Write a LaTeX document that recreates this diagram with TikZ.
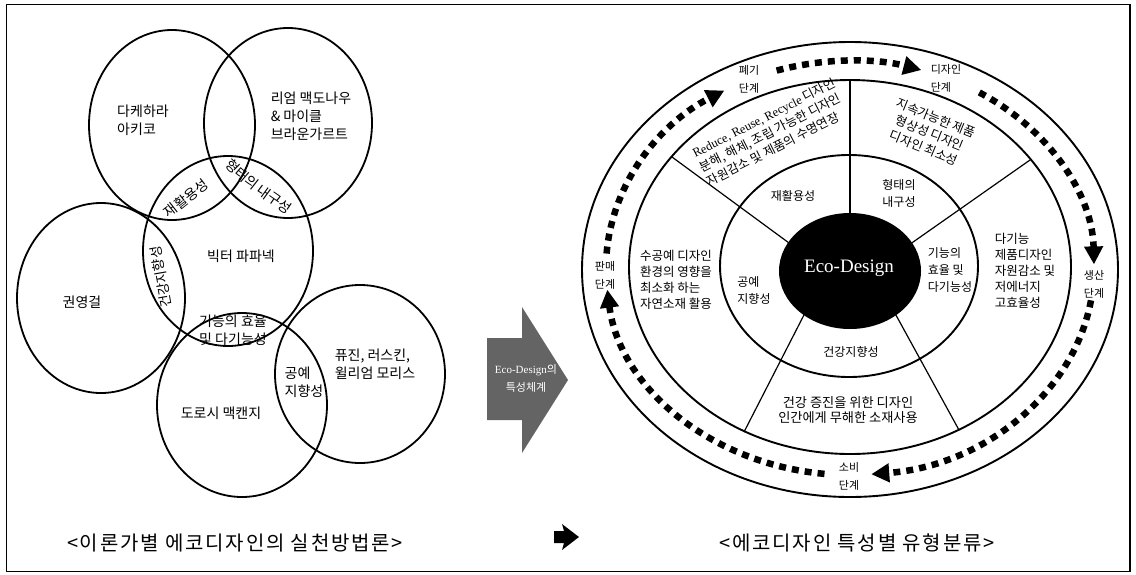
\documentclass[tikz,border=0pt]{standalone}
\usepackage{fontspec}
\setmainfont{Liberation Serif}
\newfontfamily\kr{Noto Sans CJK KR}
\newfontfamily\krcap{Noto Sans CJK KR}[LetterSpace=9]
\newfontfamily\tnr{Liberation Serif}
\usetikzlibrary{arrows.meta,decorations.text}
\definecolor{arrowgray}{RGB}{100,100,100}
\begin{document}
\begin{tikzpicture}[x=1pt,y=-1pt,
  venn/.style={line width=1.8pt},
  ring/.style={line width=1.9pt},
  spoke/.style={line width=1.2pt},
  vlab/.style={font=\kr\fontsize{14}{18}\selectfont, inner sep=0pt, align=left},
  rlab/.style={font=\kr\fontsize{12}{17}\selectfont, inner sep=0pt, align=left},
  olab/.style={font=\kr\fontsize{12.5}{16}\selectfont, inner sep=0pt, align=left},
  tlab/.style={font=\kr\fontsize{11}{18}\selectfont, inner sep=0pt, align=left},
  captext/.style={font=\krcap\fontsize{20}{22}\selectfont, inner sep=0pt},
  track/.style={line width=6.5pt, dash pattern=on 7pt off 6pt, -{Triangle[length=18pt,width=18pt]}},
]
\useasboundingbox (0,0) rectangle (1136,574);
\draw[line width=1.5pt] (6.5,4.5) rectangle (1130,571.5);

% ---------- left: Venn circles ----------
\draw[venn] (172,125) ellipse [x radius=83, y radius=95];
\draw[venn] (288,123) ellipse [x radius=84, y radius=95];
\draw[venn] (228,251) ellipse [x radius=85, y radius=95];
\draw[venn] (101,298) ellipse [x radius=84, y radius=95];
\draw[venn] (242,405) ellipse [x radius=85, y radius=92];
\draw[venn] (360,374) ellipse [x radius=85, y radius=89];

\node[vlab] (takehara) at (143,120) {다케하라\\아키코};
\node[vlab] (mcdonough) at (311,116) {리엄 맥도나우\\\& 마이클\\브라운가르트};
\node[vlab, rotate=38] (recyc) at (186,198) {재활용성};
\path[decorate, decoration={text along path, text align=center,
  text={|\kr\fontsize{14}{14}\selectfont|형태의 내구성}}]
  (220,160) .. controls (236,180) and (271.5,203.7) .. (293,218);
\node[font=\kr\fontsize{13.5}{13.5}\selectfont, inner sep=0pt, rotate=100] (health) at (161,277) {건강지향성};
\node[vlab] (papanek) at (241,256) {빅터 파파넥};
\node[vlab] (kwon) at (82,302) {권영걸};
\node[vlab, align=center] (func) at (233,330) {기능의 효율\\및 다기능성};
\node[vlab] (pugin) at (375,364) {퓨진, 러스킨,\\윌리엄 모리스};
\node[vlab] (craft) at (304,382) {공예\\지향성};
\node[vlab] (mckenzie) at (221,413) {도로시 맥캔지};
\node[captext] (capL) at (235,543) {<이론가별 에코디자인의 실천방법론>};

% ---------- middle arrow ----------
\fill[arrowgray] (487,338) -- (522,338) -- (522,307) -- (568,380) -- (522,453) -- (522,420) -- (487,420) -- cycle;
\node[white, font=\kr\fontsize{11}{18}\selectfont, align=center, inner sep=0pt] (arrowtxt) at (526,378) {{\tnr Eco-Design}의\\특성체계};
\fill (554,531) -- (564,531) -- (562,524) -- (579,537) -- (562,550) -- (564,543) -- (554,543) -- cycle;

% ---------- right: rings ----------
\draw[ring] (850,269.5) ellipse [x radius=268, y radius=227.5];
\draw[ring] (850,267) ellipse [x radius=221, y radius=187];
\draw[ring] (849,266) ellipse [x radius=129, y radius=111];
\draw[spoke] (850,230) -- (850,80);
\draw[spoke] (790,243.7) -- (672,157);
\draw[spoke] (910,244.2) -- (1030,160);
\draw[spoke] (806,311) -- (744,432);
\draw[spoke] (894,311.5) -- (959,430);
\fill (850,271) ellipse [x radius=71, y radius=58];
\node[white, font=\tnr\fontsize{19}{19}\selectfont, inner sep=0pt] (eco) at (849,268) {Eco-Design};

\node[rlab] (r1) at (793,196) {재활용성};
\node[rlab] (r2) at (899,193) {형태의\\내구성};
\node[rlab] (r3) at (950,270) {기능의\\효율 및\\다기능성};
\node[rlab] (r4) at (754,290) {공예\\지향성};
\node[rlab] (r5) at (851,352) {건강지향성};

\node[olab, rotate=27] (o1) at (771,132) {{\tnr Reduce, Reuse, Recycle} 디자인\\분해, 해체, 조립 가능한 디자인\\자원감소 및 제품의 수명연장};
\node[olab, align=center, rotate=-22] (o2) at (930,133) {지속가능한 제품\\형상성 디자인\\디자인 최소성};
\node[olab] (o3) at (1025,271) {다기능\\제품디자인\\자원감소 및\\저에너지\\고효율성};
\node[olab] (o4) at (676,280) {수공예 디자인\\환경의 영향을\\최소화 하는\\자연소재 활용};
\node[olab, align=center, font=\kr\fontsize{13.2}{15}\selectfont] (o5) at (848,410) {건강 증진을 위한 디자인\\인간에게 무해한 소재사용};

\node[tlab] (t1) at (749,79) {폐기\\단계};
\node[tlab] (t2) at (946,78) {디자인\\단계};
\node[tlab] (t3) at (1094,284) {생산\\단계};
\node[tlab] (t4) at (605,275) {판매\\단계};
\node[tlab] (t5) at (849,476) {소비\\단계};

\draw[track] (850,268) ++(252.5:244 and 207) arc[start angle=252.5, end angle=287, x radius=244, y radius=207];
\draw[track] (850,268) ++(302:244 and 207) arc[start angle=302, end angle=359, x radius=244, y radius=207];
\draw[track] (850,268) ++(9:244 and 207) arc[start angle=9, end angle=85, x radius=244, y radius=207];
\draw[track] (850,268) ++(96:244 and 207) arc[start angle=96, end angle=174, x radius=244, y radius=207];
\draw[track] (850,268) ++(184:244 and 207) arc[start angle=184, end angle=239, x radius=244, y radius=207];

\node[captext] (capR) at (857,543) {<에코디자인 특성별 유형분류>};
\end{tikzpicture}
\end{document}
